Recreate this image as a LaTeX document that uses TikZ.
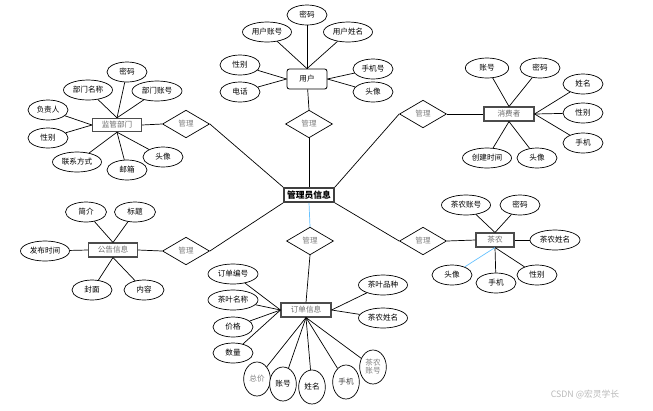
\documentclass[tikz,border=0pt]{standalone}
\usepackage{fontspec}
\setmainfont{Noto Sans CJK SC}
\usetikzlibrary{shapes.geometric}

\begin{document}
\begin{tikzpicture}[x=0.03cm, y=-0.03cm,
    every node/.style={font=\fontsize{6.5}{7}\selectfont},
    attr/.style={ellipse, draw, line width=0.6pt, fill=white, inner sep=0pt,
      minimum width=1.2cm, minimum height=0.6cm},
    tallattr/.style={attr, minimum width=0.8cm, minimum height=1.02cm, align=center},
    entity/.style={rectangle, draw=gray!60!black, line width=0.9pt, fill=white,
      minimum width=1.5cm, minimum height=0.42cm, inner sep=0pt, text=gray!85!black},
    rel/.style={diamond, draw, line width=0.6pt, fill=white, aspect=1.7,
      minimum width=1.41cm, minimum height=0.83cm, inner sep=0pt, text=gray},
    link/.style={line width=0.6pt},
    bluelink/.style={line width=0.6pt, draw=blue!40!cyan!60},
  ]
  \useasboundingbox (0,0) rectangle (653,410);

  % Centre
  \node[entity, draw=black!75, line width=1.4pt, text=black,
    font=\fontsize{7.5}{8}\selectfont\bfseries] (admin) at (309,195) {管理员信息};

  % User
  \node[entity, rounded corners=2pt, draw=black, line width=0.7pt, text=black,
    minimum width=1.2cm, minimum height=0.6cm] (user) at (307,79) {用户};
  \node[rel] (ruser) at (309,124) {管理};
  \draw[link] (user) -- (ruser.north);
  \draw[link] (ruser.south) -- (admin.north);
  \foreach \nm/\x/\y/\w/\txt/\an in {upw/307/15/1.2/密码/north, uacc/267/32/1.47/用户账号/north,
      uname/348/32/1.47/用户姓名/north, usex/240/65/1.2/性别/west, utel/240/92/1.2/电话/west,
      uphone/373/69/1.2/手机号/east, uhead/373/92/1.2/头像/east} {
    \node[attr, minimum width=\w cm] (\nm) at (\x,\y) {\txt};
    \draw[link] (\nm) -- (user.\an);
  }

  % Supervising department
  \node[entity, minimum width=1.47cm, minimum height=0.4cm] (dept) at (117,125) {监管部门};
  \node[rel] (rdept) at (186,124) {管理};
  \draw[link] (dept.east) -- (rdept.west);
  \draw[link] (rdept.east) -- (admin.north west);
  \foreach \nm/\x/\y/\w/\txt/\an in {dpw/127/72/1.2/密码/north, dname/88/90/1.47/部门名称/north,
      dacc/157/91/1.5/部门账号/north, dboss/48/110/1.2/负责人/west, dsex/48/138/1.2/性别/west,
      dcontact/77/162/1.47/联系方式/south, dmail/127/170/1.2/邮箱/south, dhead/163/157/1.2/头像/south} {
    \node[attr, minimum width=\w cm] (\nm) at (\x,\y) {\txt};
    \draw[link] (\nm) -- (dept.\an);
  }

  % Consumer
  \node[entity] (cons) at (509,114) {消费者};
  \node[rel] (rcons) at (423,114) {管理};
  \draw[link] (rcons.east) -- (cons.west);
  \draw[link] (rcons.west) -- (admin.north east);
  \foreach \nm/\x/\y/\w/\txt/\an in {cacc/487/68/1.3/账号/north, cpw/540/68/1.2/密码/north,
      cname/583/84/1.2/姓名/east, csex/583/113/1.2/性别/east, cphone/583/143/1.2/手机/east,
      ctime/487/158/1.47/创建时间/south, chead/537/158/1.2/头像/south} {
    \node[attr, minimum width=\w cm] (\nm) at (\x,\y) {\txt};
    \draw[link] (\nm) -- (cons.\an);
  }

  % Notice
  \node[entity, minimum width=1.47cm] (notice) at (113,250) {公告信息};
  \node[rel] (rnotice) at (186,251) {管理};
  \draw[link] (notice.east) -- (rnotice.west);
  \draw[link] (rnotice.east) -- (admin.south west);
  \foreach \nm/\x/\y/\w/\txt/\an in {nbrief/86/212/1.23/简介/north, ntitle/135/212/1.23/标题/north,
      ntime/45/251/1.47/发布时间/west, ncover/92/290/1.2/封面/south, ncontent/144/290/1.2/内容/south} {
    \node[attr, minimum width=\w cm] (\nm) at (\x,\y) {\txt};
    \draw[link] (\nm) -- (notice.\an);
  }

  % Tea farmer
  \node[entity, minimum width=1.14cm] (farmer) at (495,240) {茶农};
  \node[rel] (rfarmer) at (423,241) {管理};
  \draw[link] (rfarmer.east) -- (farmer.west);
  \draw[link] (rfarmer.west) -- (admin.south east);
  \foreach \nm/\x/\y/\w/\txt/\an in {facc/466/205/1.47/茶农账号/north, fpw/520/205/1.2/密码/north,
      fname/555/240/1.5/茶农姓名/east, fphone/496/283/1.2/手机/south, fsex/537/275/1.2/性别/south} {
    \node[attr, minimum width=\w cm] (\nm) at (\x,\y) {\txt};
    \draw[link] (\nm) -- (farmer.\an);
  }
  \node[attr] (fhead) at (452,275) {头像};
  \draw[bluelink] (fhead) -- (farmer.south);

  % Order
  \node[entity] (order) at (306,310) {订单信息};
  \node[rel] (rorder) at (310,241) {管理};
  \draw[bluelink] (admin.south) -- (rorder.north);
  \draw[link] (rorder.south) -- (order.north);
  \foreach \nm/\x/\y/\w/\txt/\an in {oid/233/274/1.5/订单编号/west, otea/233/300/1.5/茶叶名称/west,
      oprice/233/327/1.2/价格/west, onum/233/353/1.2/数量/west,
      okind/383/285/1.47/茶叶品种/east, ofname/383/318/1.47/茶农姓名/east} {
    \node[attr, minimum width=\w cm] (\nm) at (\x,\y) {\txt};
    \draw[link] (\nm) -- (order.\an);
  }
  \foreach \nm/\x/\y/\txt/\col in {ototal/257/379/总价/gray, oacc/283/384/账号/black,
      oname/312/387/姓名/black, ophone/346/382/手机/black!75, ofacc/373/367/茶农\\账号/gray} {
    \node[tallattr, text=\col] (\nm) at (\x,\y) {\txt};
    \draw[link] (\nm) -- (order.south);
  }

  % Watermark
  \node[text=gray!55, font=\fontsize{7.5}{8}\selectfont] (mark) at (585,395) {CSDN @宏灵学长};
\end{tikzpicture}
\end{document}
